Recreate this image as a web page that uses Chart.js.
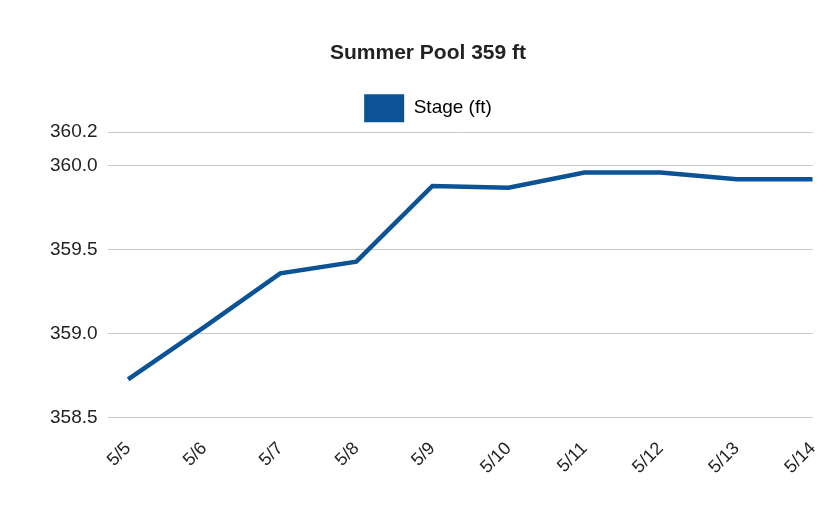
<!DOCTYPE html>
<html><head><meta charset="utf-8">
<script src="https://cdn.jsdelivr.net/npm/chart.js@4"></script>
<style>html,body{margin:0;background:#fff}#w{width:840px;height:520px}</style>
</head><body><div id="w"><canvas id="c"></canvas></div>
<script>
const categories = ["5/5","5/6","5/7","5/8","5/9","5/10","5/11","5/12","5/13","5/14"];
const stage = [358.73,359.04,359.36,359.43,359.88,359.87,359.96,359.96,359.92,359.92];
const yTicks = [358.5,359.0,359.5,360.0,360.2];
const color = "#0b5394";
Chart.defaults.font.family = "'Liberation Sans', Arial, sans-serif";
Chart.defaults.color = "#222";
new Chart(document.getElementById("c"), {
  type: "line",
  data: { datasets: [{ label: "Stage (ft)", data: stage.map((v,i)=>({x:i,y:v})),
    borderColor: color, backgroundColor: color, borderWidth: 4.5, pointRadius: 0, tension: 0 }] },
  options: {
    responsive: true, maintainAspectRatio: false, animation: false,
    layout: { padding: { left: 40, right: 24, top: 41, bottom: 30 } },
    plugins: {
      title: { display: true, text: "Summer Pool 359 ft", font: { size: 21, weight: "bold" }, color: "#222", padding: { bottom: 14 } },
      legend: { labels: { boxWidth: 40, boxHeight: 28, padding: 14, font: { size: 19 }, color: "#222",
        generateLabels: c => [{ text: "Stage (ft)", fillStyle: color, strokeStyle: color, lineWidth: 0, datasetIndex: 0 }] } }
    },
    scales: {
      x: { type: "linear", min: -0.27, max: 9, grid: { display: false }, border: { display: false },
        afterBuildTicks: a => { a.ticks = categories.map((_, i) => ({ value: i })); },
        ticks: { maxRotation: 45, minRotation: 45, padding: 12, font: { size: 18 }, color: "#222", callback: v => categories[v] } },
      y: { min: 358.5, max: 360.2, border: { display: false }, grid: { color: "#c8c8c8", drawTicks: false },
        afterBuildTicks: a => { a.ticks = yTicks.map(v => ({ value: v })); },
        ticks: { padding: 10, font: { size: 19 }, color: "#222", callback: v => v.toFixed(1) } }
    }
  }
});
</script></body></html>
